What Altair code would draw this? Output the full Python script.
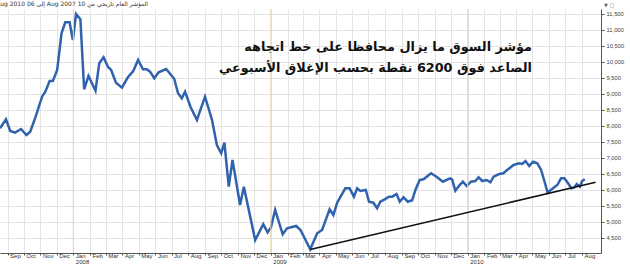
import altair as alt
import pandas as pd

dates = ["2007-08-18","2007-08-29","2007-09-06","2007-09-15","2007-09-26","2007-10-06","2007-10-13","2007-10-22","2007-11-04","2007-11-10",
         "2007-11-18","2007-11-24","2007-12-02","2007-12-10","2007-12-17","2007-12-25","2007-12-31","2008-01-06","2008-01-14","2008-01-21",
         "2008-01-29","2008-02-11","2008-02-18","2008-02-26","2008-03-05","2008-03-11","2008-03-20","2008-03-31","2008-04-11","2008-04-21",
         "2008-04-30","2008-05-09","2008-05-16","2008-05-22","2008-05-30","2008-06-07","2008-06-21","2008-06-29","2008-07-06","2008-07-13",
         "2008-07-20","2008-07-26","2008-08-05","2008-08-17","2008-09-01","2008-09-14","2008-09-23","2008-10-01","2008-10-07","2008-10-15",
         "2008-10-22","2008-11-05","2008-11-12","2008-12-03","2008-12-18","2008-12-26","2009-01-01","2009-01-09","2009-01-23","2009-01-31",
         "2009-02-17","2009-02-25","2009-03-15","2009-03-28","2009-04-06","2009-04-20","2009-04-27","2009-05-04","2009-05-19","2009-05-27",
         "2009-06-04","2009-06-10","2009-06-16","2009-06-26","2009-07-02","2009-07-10","2009-07-17","2009-07-23","2009-07-31","2009-08-08",
         "2009-08-14","2009-08-22","2009-08-28","2009-09-04","2009-09-12","2009-09-20","2009-09-26","2009-10-04","2009-10-11","2009-10-25",
         "2009-11-04","2009-11-16","2009-11-29","2009-12-03","2009-12-09","2009-12-17","2009-12-23","2009-12-30","2010-01-07","2010-01-15",
         "2010-01-21","2010-01-28","2010-02-05","2010-02-12","2010-02-18","2010-02-27","2010-03-08","2010-03-15","2010-03-27","2010-04-06",
         "2010-04-12","2010-04-18","2010-04-25","2010-05-02","2010-05-10","2010-05-17","2010-05-23","2010-05-29","2010-06-08","2010-06-16",
         "2010-06-23","2010-06-29","2010-07-06","2010-07-12","2010-07-17","2010-07-22","2010-07-28","2010-08-01","2010-08-06"]

values = [7928,8209,7844,7791,7906,7719,7822,8241,8916,9072,
          9406,9406,9750,10897,11241,11241,10688,11500,11334,9147,
          9563,9103,9959,10147,9853,9750,9353,9197,9522,9719,
          10063,9772,9772,9697,9491,9678,9781,9616,9469,9022,
          8866,9072,8603,8188,8916,8188,7406,7147,7478,6103,
          6938,5531,6103,4438,4928,4678,4822,5375,4616,4803,
          4875,4750,4147,4647,4750,5397,5219,5603,6053,6053,
          5791,6053,5969,6000,5634,5603,5428,5634,5709,5791,
          5791,5875,5634,5772,5634,5678,6000,6313,6334,6522,
          6416,6259,6366,6334,5978,6156,6259,6125,6259,6281,
          6397,6281,6313,6241,6416,6491,6522,6625,6781,6834,
          6813,6906,6750,6884,6834,6625,6281,5916,6053,6156,
          6366,6366,6209,6053,6072,6188,6103,6281,6334]

trend_dates = ["2009-03-15", "2010-08-26"]
trend_values = [4140, 6240]

year_starts = ["2008-01-01", "2009-01-01", "2010-01-01"]

y_ticks = list(range(4500, 12000, 500))

title_line1 = "مؤشر السوق ما يزال محافظا على خط اتجاهه"
title_line2 = "الصاعد فوق 6200 نقطة بحسب الإغلاق الأسبوعي"
header_text = "\u202bالمؤشر العام تاريخي   من 10 Aug 2007 إلى 06 Aug 2010 (أسبوعي)\u202c"
icons_text = "▼ □"

month_ticks = [alt.DateTime(year=d.year, month=d.month, date=1)
               for d in pd.date_range("2007-08-01", "2010-08-01", freq="MS")]

df = pd.DataFrame({"date": dates, "value": values})
df_trend = pd.DataFrame({"date": trend_dates, "value": trend_values})
df_years = pd.DataFrame({"date": year_starts})

x_scale = alt.Scale(domain=[alt.DateTime(year=2007, month=8, date=18),
                            alt.DateTime(year=2010, month=9, date=5)])
y_scale = alt.Scale(domain=[4031, 11656], nice=False, zero=False)

x_axis = alt.Axis(
    values=month_ticks, title=None,
    labelExpr="month(datum.value)==0 ? [timeFormat(datum.value,'%b'), timeFormat(datum.value,'%Y')] : timeFormat(datum.value,'%b')",
    labelAlign="left", labelBaseline="top", labelPadding=-3, labelOffset=2, labelFontSize=6,
    labelColor="#333", labelFont="Liberation Sans", labelOverlap=False, labelFlush=False,
    tickSize=2, tickColor="#555", domainColor="#555",
    grid=True, gridColor="#e4e4e4", gridWidth=1, labelLineHeight=6.5,
)
y_axis = alt.Axis(
    values=y_ticks, orient="right", title=None,
    labelExpr="format(datum.value, ',')",
    labelFontSize=5.8, labelColor="#444", labelFont="Liberation Sans", labelPadding=2,
    tickSize=3, tickColor="#555", domainColor="#555",
    grid=True, gridColor="#e4e4e4", gridWidth=1,
)

bx = alt.X("date:T", scale=x_scale, axis=x_axis)
by = alt.Y("value:Q", scale=y_scale, axis=y_axis)

line = alt.Chart(df).mark_line(color="#3062ad", strokeWidth=2.5).encode(x=bx, y=by)

years = alt.Chart(df_years).mark_rule(color="#e6d4a6", strokeWidth=1).encode(x=bx)

trend = alt.Chart(df_trend).mark_line(color="#111111", strokeWidth=1.6).encode(x=bx, y=by)

t1 = alt.Chart(pd.DataFrame({"t": [title_line1]})).mark_text(
    align="right", baseline="middle", font="DejaVu Sans", fontWeight="bold",
    fontSize=12.8, color="#111"
).encode(text="t:N", x=alt.value(532), y=alt.value(38))

t2 = alt.Chart(pd.DataFrame({"t": [title_line2]})).mark_text(
    align="right", baseline="middle", font="DejaVu Sans", fontWeight="bold",
    fontSize=12.8, color="#111"
).encode(text="t:N", x=alt.value(532), y=alt.value(59))

hdr = alt.Chart(pd.DataFrame({"t": [header_text]})).mark_text(
    align="right", baseline="middle", font="DejaVu Sans",
    fontSize=6, color="#333"
).encode(text="t:N", x=alt.value(148), y=alt.value(-5))

icons = alt.Chart(pd.DataFrame({"t": [icons_text]})).mark_text(
    align="left", baseline="middle", font="DejaVu Sans",
    fontSize=5, color="#666"
).encode(text="t:N", x=alt.value(604), y=alt.value(-4))

chart = alt.layer(line, years, trend, t1, t2, hdr, icons).properties(
    width=601, height=244,
    autosize=alt.AutoSizeParams(type="none"),
    padding={"left": 0, "top": 9, "right": 29, "bottom": 14},
    background="white",
).configure_view(stroke=None)

chart.save("out.html", embed_options={"renderer": "svg", "actions": False})
